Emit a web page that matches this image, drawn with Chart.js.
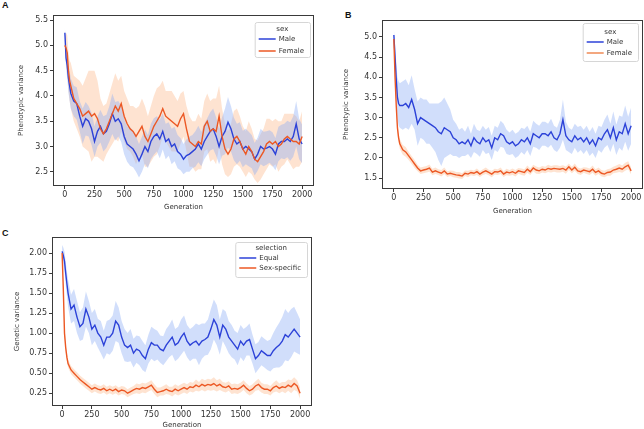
<!DOCTYPE html>
<html>
<head>
<meta charset="utf-8">
<script src="https://cdn.jsdelivr.net/npm/chart.js@4.4.0/dist/chart.umd.min.js"></script>
<style>
  body { margin: 0; background: #fff; }
  #page { position: relative; width: 644px; height: 429px; overflow: hidden; background: #fff; }
  #page canvas { position: absolute; }
  .lettre { position: absolute; font: bold 9px "Liberation Sans", Arial, sans-serif; color: #111; }
</style>
</head>
<body>
<div id="page">
  <div class="lettre" style="left:2px;top:0px">A</div>
  <div class="lettre" style="left:345px;top:10px">B</div>
  <div class="lettre" style="left:2px;top:228px">C</div>
  <canvas id="chartA" width="322" height="215" style="left:0;top:0"></canvas>
  <canvas id="chartB" width="322" height="215" style="left:322px;top:0"></canvas>
  <canvas id="chartC" width="322" height="214" style="left:0;top:215px"></canvas>
</div>
<script>
// generations sampled (denser at the start where variance drops fast)
const gens = [0, 10, 20, 30, 40, 50,
  75, 100, 125, 150, 175, 200, 225, 250,
  275, 300, 325, 350, 375, 400, 425, 450, 475, 500,
  525, 550, 575, 600, 625, 650, 675, 700, 725, 750,
  775, 800, 825, 850, 875, 900, 925, 950, 975, 1000,
  1025, 1050, 1075, 1100, 1125, 1150, 1175, 1200, 1225, 1250,
  1275, 1300, 1325, 1350, 1375, 1400, 1425, 1450, 1475, 1500,
  1525, 1550, 1575, 1600, 1625, 1650, 1675, 1700, 1725, 1750,
  1775, 1800, 1825, 1850, 1875, 1900, 1925, 1950, 1975, 2000]

const xTicks = [0, 250, 500, 750, 1000, 1250, 1500, 1750, 2000]
const yTicksA = [2.5, 3.0, 3.5, 4.0, 4.5, 5.0, 5.5]
const yTicksB = [1.5, 2.0, 2.5, 3.0, 3.5, 4.0, 4.5, 5.0]
const yTicksC = [0.25, 0.5, 0.75, 1.0, 1.25, 1.5, 1.75, 2.0]

// A : phenotypic variance, sex
const maleA = [5.25, 4.75, 4.6, 4.35, 4.2, 4.05,
  3.9, 3.85, 3.6, 3.4, 3.55, 3.5, 3.35, 3.1,
  3.3, 3.4, 3.25, 3.3, 3.45, 3.65, 3.5, 3.55, 3.45, 3.2,
  3.05, 3.0, 2.95, 2.85, 2.72, 2.85, 3.0, 2.9, 3.1, 3.2,
  3.25, 3.15, 3.3, 3.1, 3.15, 3.0, 3.05, 2.9, 2.85, 2.75,
  2.82, 2.85, 2.9, 2.95, 3.05, 2.95, 3.1, 3.2, 3.3, 3.35,
  3.2, 3.0, 3.2, 3.3, 3.48, 3.35, 3.15, 3.05, 3.1, 2.95,
  3.0, 2.95, 2.9, 2.75, 2.85, 3.0, 2.95, 2.97, 3.0, 2.95,
  2.85, 3.05, 3.1, 3.1, 3.15, 3.1, 3.2, 3.45, 3.15, 3.05]
const maleCiA = [0.12, 0.2, 0.25, 0.28, 0.3, 0.3,
  0.3, 0.32, 0.3, 0.35, 0.33, 0.3, 0.32, 0.3,
  0.3, 0.32, 0.35, 0.33, 0.35, 0.4, 0.38, 0.35, 0.36, 0.35,
  0.35, 0.38, 0.36, 0.35, 0.33, 0.35, 0.34, 0.33, 0.35, 0.36,
  0.35, 0.38, 0.36, 0.35, 0.33, 0.35, 0.34, 0.33, 0.32, 0.3,
  0.32, 0.35, 0.33, 0.35, 0.36, 0.34, 0.35, 0.36, 0.38, 0.4,
  0.38, 0.35, 0.38, 0.45, 0.5, 0.45, 0.42, 0.4, 0.38, 0.36,
  0.35, 0.34, 0.33, 0.32, 0.33, 0.35, 0.34, 0.33, 0.32, 0.33,
  0.32, 0.34, 0.33, 0.35, 0.36, 0.38, 0.4, 0.45, 0.4, 0.38]
const femaleA = [5.0, 4.95, 4.85, 4.5, 4.3, 4.2,
  3.95, 3.85, 3.75, 3.6, 3.65, 3.7, 3.6, 3.65,
  3.55, 3.35, 3.25, 3.35, 3.5, 3.65, 3.8, 3.7, 3.85, 3.6,
  3.45, 3.35, 3.3, 3.2, 3.3, 3.4, 3.2, 3.1, 3.25, 3.4,
  3.5, 3.6, 3.75, 3.6, 3.55, 3.5, 3.45, 3.4, 3.55, 3.65,
  3.35, 3.1, 3.05, 3.0, 3.1, 3.05, 3.4, 3.5, 3.3, 3.35,
  3.3, 3.6, 3.2, 2.95, 2.85, 2.95, 3.15, 3.2, 3.1, 2.95,
  2.85, 3.0, 2.9, 2.75, 2.7, 2.8, 2.9, 3.05, 3.1, 3.05,
  3.1, 3.0, 3.05, 3.15, 3.2, 3.15, 3.1, 3.1, 3.05, 3.2]
const femaleCiA = [0.15, 0.3, 0.35, 0.38, 0.4, 0.45,
  0.45, 0.5, 0.55, 0.6, 0.7, 0.8, 0.9, 0.85,
  0.75, 0.6, 0.55, 0.5, 0.55, 0.6, 0.65, 0.6, 0.55, 0.5,
  0.5, 0.45, 0.5, 0.55, 0.5, 0.55, 0.6, 0.5, 0.55, 0.6,
  0.65, 0.6, 0.55, 0.5, 0.55, 0.6, 0.55, 0.5, 0.5, 0.45,
  0.45, 0.5, 0.45, 0.5, 0.55, 0.5, 0.5, 0.55, 0.6, 0.6,
  0.65, 0.6, 0.55, 0.5, 0.45, 0.5, 0.55, 0.55, 0.5, 0.45,
  0.45, 0.5, 0.45, 0.4, 0.42, 0.45, 0.45, 0.5, 0.45, 0.45,
  0.45, 0.5, 0.45, 0.5, 0.45, 0.5, 0.55, 0.5, 0.45, 0.5]

// B : phenotypic variance, sex
const maleB = [5.05, 4.5, 3.95, 3.5, 3.35, 3.3,
  3.3, 3.35, 3.25, 3.45, 3.2, 2.85, 3.0, 2.95,
  2.9, 2.85, 2.8, 2.75, 2.65, 2.6, 2.75, 2.7, 2.65, 2.5,
  2.45, 2.35, 2.4, 2.35, 2.45, 2.3, 2.5, 2.4, 2.35, 2.5,
  2.4, 2.45, 2.25, 2.5, 2.45, 2.6, 2.55, 2.4, 2.35, 2.4,
  2.3, 2.35, 2.45, 2.4, 2.5, 2.35, 2.6, 2.55, 2.5, 2.6,
  2.6, 2.55, 2.65, 2.5, 2.45, 2.6, 2.95, 2.55, 2.45, 2.4,
  2.55, 2.45, 2.5, 2.4, 2.5, 2.35, 2.45, 2.3, 2.5, 2.45,
  2.6, 2.7, 2.5, 2.75, 2.45, 2.65, 2.6, 2.85, 2.6, 2.8]
const maleCiB = [0.15, 0.3, 0.45, 0.5, 0.55, 0.55,
  0.6, 0.6, 0.55, 0.6, 0.5, 0.55, 0.5, 0.5,
  0.55, 0.5, 0.55, 0.6, 0.7, 0.8, 0.75, 0.65, 0.55, 0.45,
  0.4, 0.35, 0.35, 0.3, 0.35, 0.3, 0.35, 0.3, 0.32, 0.3,
  0.3, 0.32, 0.3, 0.3, 0.3, 0.32, 0.3, 0.3, 0.28, 0.3,
  0.3, 0.3, 0.3, 0.32, 0.3, 0.3, 0.32, 0.3, 0.3, 0.3,
  0.3, 0.3, 0.32, 0.3, 0.3, 0.35, 0.5, 0.35, 0.3, 0.3,
  0.3, 0.32, 0.3, 0.3, 0.3, 0.3, 0.32, 0.3, 0.3, 0.32,
  0.35, 0.38, 0.35, 0.4, 0.38, 0.4, 0.42, 0.45, 0.42, 0.45]
const femaleB = [4.95, 4.0, 3.3, 2.75, 2.5, 2.35,
  2.2, 2.15, 2.05, 1.95, 1.85, 1.75, 1.68, 1.7,
  1.72, 1.75, 1.65, 1.68, 1.65, 1.62, 1.68, 1.6, 1.62, 1.6,
  1.58, 1.57, 1.55, 1.62, 1.6, 1.64, 1.62, 1.66, 1.6, 1.65,
  1.68, 1.64, 1.6, 1.66, 1.65, 1.68, 1.6, 1.65, 1.63, 1.66,
  1.62, 1.68, 1.66, 1.64, 1.72, 1.66, 1.75, 1.7, 1.68, 1.72,
  1.7, 1.74, 1.72, 1.74, 1.73, 1.72, 1.74, 1.7, 1.78, 1.7,
  1.77, 1.68, 1.66, 1.7, 1.68, 1.66, 1.72, 1.64, 1.68, 1.62,
  1.6, 1.64, 1.65, 1.7, 1.72, 1.75, 1.72, 1.78, 1.82, 1.68]
const femaleCiB = [0.1, 0.15, 0.15, 0.12, 0.12, 0.12,
  0.12, 0.12, 0.1, 0.1, 0.1, 0.08, 0.08, 0.08,
  0.08, 0.09, 0.08, 0.08, 0.07, 0.08, 0.08, 0.07, 0.07, 0.08,
  0.07, 0.08, 0.07, 0.07, 0.08, 0.07, 0.07, 0.08, 0.07, 0.07,
  0.08, 0.07, 0.08, 0.07, 0.07, 0.08, 0.07, 0.08, 0.07, 0.08,
  0.08, 0.07, 0.08, 0.08, 0.09, 0.08, 0.08, 0.09, 0.08, 0.08,
  0.08, 0.09, 0.08, 0.08, 0.09, 0.08, 0.08, 0.09, 0.08, 0.08,
  0.09, 0.08, 0.08, 0.07, 0.08, 0.08, 0.09, 0.08, 0.08, 0.08,
  0.08, 0.08, 0.09, 0.08, 0.09, 0.1, 0.09, 0.1, 0.1, 0.09]

// C : genetic variance, selection
const equalC = [2.02, 1.97, 1.9, 1.75, 1.62, 1.5,
  1.3, 1.35, 1.2, 1.08, 1.12, 1.3, 1.2, 1.05,
  1.1, 1.0, 0.95, 0.85, 0.95, 0.95, 1.0, 1.15, 1.1, 0.95,
  0.85, 0.82, 0.85, 0.75, 0.8, 0.78, 0.72, 0.68, 0.8, 0.88,
  0.85, 0.85, 0.8, 0.78, 0.85, 0.9, 0.95, 0.85, 0.88, 0.95,
  1.0, 0.9, 0.85, 0.88, 0.9, 0.85, 0.9, 0.92, 0.95, 1.05,
  1.17, 1.1, 0.95, 1.1, 1.05, 0.95, 0.9, 0.85, 0.8, 0.9,
  0.85, 0.9, 0.92, 0.8, 0.68, 0.72, 0.78, 0.75, 0.72, 0.72,
  0.78, 0.82, 0.85, 0.9, 0.98, 0.95, 1.0, 1.05, 1.0, 0.95]
const equalCiC = [0.08, 0.1, 0.12, 0.14, 0.15, 0.17,
  0.18, 0.2, 0.2, 0.18, 0.2, 0.22, 0.2, 0.2,
  0.2, 0.18, 0.2, 0.18, 0.2, 0.22, 0.22, 0.25, 0.22, 0.2,
  0.2, 0.18, 0.2, 0.18, 0.17, 0.18, 0.18, 0.17, 0.18, 0.2,
  0.2, 0.18, 0.17, 0.18, 0.2, 0.2, 0.22, 0.2, 0.2, 0.22,
  0.22, 0.2, 0.2, 0.2, 0.22, 0.25, 0.22, 0.2, 0.22, 0.25,
  0.25, 0.25, 0.22, 0.2, 0.22, 0.2, 0.2, 0.18, 0.2, 0.2,
  0.2, 0.18, 0.2, 0.18, 0.18, 0.17, 0.18, 0.18, 0.18, 0.2,
  0.22, 0.25, 0.28, 0.3, 0.32, 0.3, 0.3, 0.28, 0.25, 0.22]
const sexSpecC = [2.0, 1.55, 1.0, 0.82, 0.7, 0.62,
  0.54, 0.5, 0.46, 0.42, 0.39, 0.36, 0.33, 0.3,
  0.32, 0.3, 0.29, 0.31, 0.28, 0.3, 0.28, 0.3, 0.27, 0.29,
  0.28, 0.25, 0.27, 0.29, 0.31, 0.3, 0.32, 0.31, 0.33, 0.35,
  0.3, 0.26, 0.27, 0.28, 0.3, 0.28, 0.27, 0.3, 0.28, 0.3,
  0.32, 0.3, 0.33, 0.32, 0.35, 0.33, 0.36, 0.34, 0.36, 0.35,
  0.37, 0.34, 0.36, 0.33, 0.32, 0.34, 0.3, 0.31, 0.3, 0.32,
  0.35, 0.31, 0.28, 0.3, 0.34, 0.36, 0.32, 0.3, 0.3, 0.28,
  0.32, 0.34, 0.31, 0.33, 0.32, 0.35, 0.33, 0.37, 0.34, 0.25]
const sexSpecCiC = [0.02, 0.05, 0.05, 0.05, 0.05, 0.05,
  0.05, 0.05, 0.05, 0.05, 0.05, 0.05, 0.05, 0.05,
  0.05, 0.05, 0.05, 0.05, 0.05, 0.05, 0.05, 0.05, 0.05, 0.05,
  0.05, 0.05, 0.05, 0.05, 0.06, 0.06, 0.06, 0.06, 0.06, 0.06,
  0.06, 0.06, 0.05, 0.06, 0.06, 0.05, 0.06, 0.06, 0.06, 0.06,
  0.06, 0.06, 0.06, 0.06, 0.07, 0.06, 0.07, 0.07, 0.07, 0.07,
  0.08, 0.07, 0.07, 0.06, 0.06, 0.06, 0.06, 0.06, 0.06, 0.06,
  0.06, 0.06, 0.06, 0.06, 0.06, 0.07, 0.06, 0.06, 0.06, 0.06,
  0.06, 0.07, 0.06, 0.06, 0.07, 0.07, 0.08, 0.08, 0.07, 0.07]

const bleu = '#2c42d8'
const orange = '#ec5824'
const bandeBleu = 'rgba(140,172,245,0.4)'
const bandeOrange = 'rgba(252,178,128,0.36)'
const police = '"DejaVu Sans", sans-serif'

// frame on four sides + legend box like matplotlib
const cadre = {
  id: 'cadre',
  afterDraw(chart, args, opts) {
    const ctx = chart.ctx
    const a = chart.chartArea
    ctx.save()
    ctx.strokeStyle = '#3a3a3a'
    ctx.lineWidth = 1
    ctx.strokeRect(Math.round(a.left) + 0.5, Math.round(a.top) + 0.5, Math.round(a.width) - 1, Math.round(a.height) - 1)

    ctx.font = '7px ' + police
    let large = ctx.measureText(opts.titre).width
    for (const it of opts.items) large = Math.max(large, 21 + ctx.measureText(it.label).width)
    const w = large + 9
    const h = opts.haut
    const x = a.right - w - opts.droite
    const y = a.top + opts.dessus
    ctx.fillStyle = 'rgba(255,255,255,0.85)'
    ctx.strokeStyle = '#d6d6d6'
    ctx.beginPath()
    ctx.roundRect(x + 0.5, y + 0.5, w, h, 2)
    ctx.fill()
    ctx.stroke()
    ctx.fillStyle = '#333'
    ctx.textBaseline = 'middle'
    ctx.textAlign = 'center'
    ctx.fillText(opts.titre, x + w / 2, y + opts.ligneTitre)
    ctx.textAlign = 'left'
    opts.items.forEach((it, i) => {
      const yy = y + opts.ligne1 + i * opts.pas
      ctx.strokeStyle = it.color
      ctx.lineWidth = 1.5
      ctx.beginPath()
      ctx.moveTo(x + 4, yy)
      ctx.lineTo(x + 21, yy)
      ctx.stroke()
      ctx.fillText(it.label, x + 24, yy)
    })
    ctx.restore()
  }
}

function pts(vals) { return gens.map((g, i) => ({ x: g, y: vals[i] })) }
function bord(vals, ci, s) { return gens.map((g, i) => ({ x: g, y: vals[i] + s * ci[i] })) }

function panneau(id, p) {
  const datasets = []
  // lines first so they are drawn above the bands; second series on top
  for (let i = p.series.length - 1; i >= 0; i--) {
    const s = p.series[i]
    datasets.push({ data: pts(s.vals), borderColor: s.color, borderWidth: 1.4, pointRadius: 0, fill: false })
  }
  for (const s of p.series) {
    datasets.push({ data: bord(s.vals, s.ci, -1), borderWidth: 0, pointRadius: 0, fill: false })
    datasets.push({ data: bord(s.vals, s.ci, 1), borderWidth: 0, pointRadius: 0, fill: '-1', backgroundColor: s.bande })
  }
  new Chart(document.getElementById(id), {
    type: 'line',
    data: { datasets: datasets },
    options: {
      responsive: false,
      animation: false,
      devicePixelRatio: 1,
      layout: { padding: p.padding },
      plugins: {
        legend: { display: false },
        tooltip: { enabled: false },
        cadre: p.legende,
      },
      scales: {
        x: {
          type: 'linear', min: p.xMin, max: 2100,
          afterBuildTicks: (sc) => { sc.ticks = xTicks.map(v => ({ value: v })) },
          afterFit: (sc) => { sc.height = p.xHaut },
          grid: { drawOnChartArea: false, tickLength: 3, color: '#3a3a3a' },
          border: { display: false },
          ticks: { font: { family: police, size: 8 }, color: '#333', padding: 1, maxRotation: 0, callback: (v) => String(v) },
          title: { display: true, text: 'Generation', font: { family: police, size: 7 }, color: '#333', padding: { top: 0, bottom: p.xTitrePad } },
        },
        y: {
          min: p.yMin, max: p.yMax,
          afterBuildTicks: (sc) => { sc.ticks = p.yTicks.map(v => ({ value: v })) },
          afterFit: (sc) => { sc.width = p.yLarge },
          grid: { drawOnChartArea: false, tickLength: 3, color: '#3a3a3a' },
          border: { display: false },
          ticks: { font: { family: police, size: 8 }, color: '#333', padding: 2, callback: (v) => v.toFixed(p.dec) },
          title: { display: true, text: p.yTitre, font: { family: police, size: 7 }, color: '#333', padding: { top: p.yTitrePad, bottom: 0 } },
        },
      },
    },
    plugins: [cadre],
  })
}

panneau('chartA', {
  series: [
    { vals: maleA, ci: maleCiA, color: bleu, bande: bandeBleu },
    { vals: femaleA, ci: femaleCiA, color: orange, bande: bandeOrange },
  ],
  yTicks: yTicksA, yMin: 2.22, yMax: 5.6, dec: 1, xMin: -100,
  padding: { left: 0, top: 15, right: 8, bottom: 0 },
  yLarge: 53, xHaut: 29, xTitrePad: 4, yTitrePad: 17,
  yTitre: 'Phenotypic variance',
  legende: { titre: 'sex', items: [{ label: 'Male', color: bleu }, { label: 'Female', color: orange }],
    dessus: 7, droite: 4, haut: 35, ligneTitre: 7, ligne1: 17, pas: 12 },
})

panneau('chartB', {
  series: [
    { vals: maleB, ci: maleCiB, color: bleu, bande: bandeBleu },
    { vals: femaleB, ci: femaleCiB, color: orange, bande: bandeOrange },
  ],
  yTicks: yTicksB, yMin: 1.23, yMax: 5.42, dec: 1, xMin: -100,
  padding: { left: 0, top: 20, right: 1, bottom: 0 },
  yLarge: 60, xHaut: 26, xTitrePad: 0, yTitrePad: 20,
  yTitre: 'Phenotypic variance',
  legende: { titre: 'sex', items: [{ label: 'Male', color: bleu }, { label: 'Female', color: '#ef8a55' }],
    dessus: 3, droite: 5, haut: 38, ligneTitre: 9, ligne1: 19, pas: 11 },
})

panneau('chartC', {
  series: [
    { vals: equalC, ci: equalCiC, color: bleu, bande: bandeBleu },
    { vals: sexSpecC, ci: sexSpecCiC, color: orange, bande: bandeOrange },
  ],
  yTicks: yTicksC, yMin: 0.09, yMax: 2.2, dec: 2, xMin: -85,
  padding: { left: 0, top: 22, right: 10, bottom: 0 },
  yLarge: 52, xHaut: 23, xTitrePad: 0, yTitrePad: 13,
  yTitre: 'Genetic variance',
  legende: { titre: 'selection', items: [{ label: 'Equal', color: bleu }, { label: 'Sex-specific', color: orange }],
    dessus: 5, droite: 5, haut: 35, ligneTitre: 6, ligne1: 16, pas: 10 },
})
</script>
</body>
</html>
